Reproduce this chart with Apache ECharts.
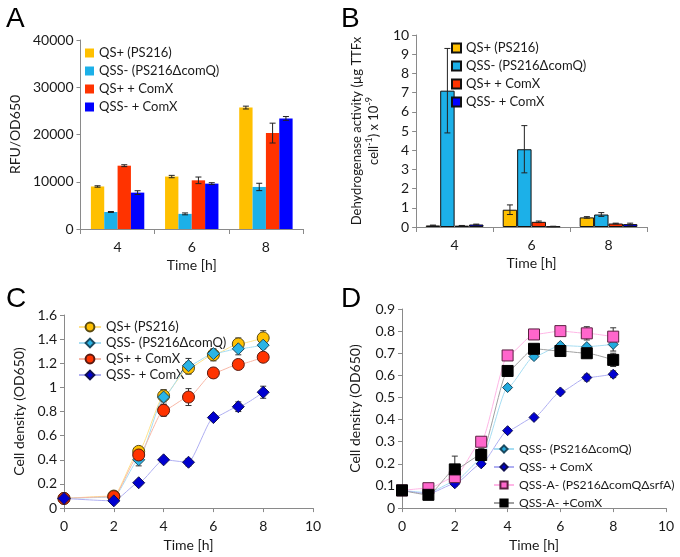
<!DOCTYPE html>
<html><head><meta charset="utf-8">
<script src="https://cdn.jsdelivr.net/npm/echarts@6/dist/echarts.min.js"></script>
<style>
html,body{margin:0;padding:0;background:#fff;}
#wrap{position:relative;width:680px;height:557px;}
.p{position:absolute;}
</style></head>
<body><div id="wrap">
<div id="pA" class="p" style="left:0;top:0;width:340px;height:280px"></div>
<div id="pB" class="p" style="left:340px;top:0;width:340px;height:280px"></div>
<div id="pC" class="p" style="left:0;top:280px;width:340px;height:277px"></div>
<div id="pD" class="p" style="left:340px;top:280px;width:340px;height:277px"></div>
</div>
<script>
// ---------- data ----------
const barTimes = ['4', '6', '8'];
const barNames = ['QS+ (PS216)', 'QSS- (PS216ΔcomQ)', 'QS+ + ComX', 'QSS- + ComX'];
// Panel A: RFU/OD650
const rfuQS = [9000, 11100, 25700];
const rfuQSErr = [150, 250, 300];
const rfuQSS = [3600, 3200, 8900];
const rfuQSSErr = [100, 200, 780];
const rfuQSComX = [13400, 10300, 20300];
const rfuQSComXErr = [200, 700, 2100];
const rfuQSSComX = [7700, 9600, 23400];
const rfuQSSComXErr = [400, 200, 400];
// Panel B: dehydrogenase activity
const dhQS = [0.08, 0.9, 0.5];
const dhQSErr = [0.02, 0.25, 0.04];
const dhQSS = [7.1, 4.05, 0.65];
const dhQSSErr = [2.2, 1.23, 0.1];
const dhQSComX = [0.07, 0.27, 0.18];
const dhQSComXErr = [0.01, 0.04, 0.02];
const dhQSSComX = [0.13, 0.03, 0.15];
const dhQSSComXErr = [0.02, 0.01, 0.05];
// Panel C: growth
const timeC = [0, 2, 3, 4, 5, 6, 7, 8];
const cQS = [0.08, 0.10, 0.47, 0.93, 1.16, 1.27, 1.36, 1.41];
const cQSErr = [0.01, 0.01, 0.03, 0.05, 0.05, 0.05, 0.05, 0.06];
const cQSS = [0.08, 0.09, 0.40, 0.92, 1.18, 1.28, 1.32, 1.35];
const cQSSErr = [0.01, 0.01, 0.05, 0.06, 0.06, 0.03, 0.05, 0.03];
const cQSComX = [0.08, 0.095, 0.44, 0.81, 0.92, 1.12, 1.19, 1.25];
const cQSComXErr = [0.01, 0.01, 0.02, 0.05, 0.07, 0.04, 0.02, 0.02];
const cQSSComX = [0.08, 0.06, 0.21, 0.40, 0.38, 0.75, 0.84, 0.96];
const cQSSComXErr = [0.01, 0.01, 0.02, 0.02, 0.03, 0.02, 0.04, 0.05];
const cNames = ['QS+ (PS216)', 'QSS- (PS216ΔcomQ)', 'QS+ + ComX', 'QSS- + ComX'];
// Panel D: growth
const timeD = [0, 1, 2, 3, 4, 5, 6, 7, 8];
const dQSS = [0.08, 0.07, 0.12, 0.22, 0.545, 0.685, 0.735, 0.73, 0.74];
const dQSSErr = [0.005, 0.005, 0.01, 0.01, 0.01, 0.01, 0.01, 0.01, 0.03];
const dQSSComX = [0.08, 0.065, 0.11, 0.20, 0.35, 0.41, 0.525, 0.59, 0.605];
const dQSSComXErr = [0.005, 0.005, 0.01, 0.01, 0.01, 0.01, 0.01, 0.015, 0.015];
const dQSSA = [0.08, 0.09, 0.14, 0.30, 0.69, 0.785, 0.80, 0.79, 0.775];
const dQSSAErr = [0.005, 0.005, 0.01, 0.01, 0.01, 0.01, 0.02, 0.03, 0.04];
const dQSSAComX = [0.08, 0.06, 0.175, 0.24, 0.62, 0.72, 0.71, 0.70, 0.67];
const dQSSAComXErr = [0.005, 0.005, 0.06, 0.03, 0.01, 0.01, 0.01, 0.01, 0.03];
const dNames = ['QSS- (PS216ΔcomQ)', 'QSS- + ComX', 'QSS-A- (PS216ΔcomQΔsrfA)', 'QSS-A- +ComX'];

// ---------- styles ----------
const FONT = 'Lato';
const axisCol = '#8a8a8a';
const txtCol = '#1a1a1a';
const barColors = ['#FFC000', '#1CB0E8', '#FF3300', '#0000FF'];
const legendText = {fontFamily: FONT, fontSize: 13, lineHeight: 14, color: txtCol};

function baseAxisStyle() {
  return {
    axisLine: {show: true, lineStyle: {color: axisCol, width: 1}},
    axisTick: {show: true, length: 4, lineStyle: {color: axisCol}},
    axisLabel: {color: txtCol, fontFamily: FONT, fontSize: 14, formatter: v => String(v)},
    splitLine: {show: false},
    nameTextStyle: {color: txtCol, fontFamily: FONT, fontSize: 14}
  };
}

function barErr(vals, errs, idx, n, gap) {
  return {
    type: 'custom', z: 10, silent: true,
    data: vals.map((v, i) => [i, v, errs[i]]),
    renderItem: function (params, api) {
      const c = api.value(0), v = api.value(1), e = api.value(2);
      const band = api.size([1, 0])[0];
      const bw = band * (1 - gap) / n;
      const off = (idx - (n - 1) / 2) * bw;
      const t = api.coord([c, v + e]), b = api.coord([c, Math.max(0, v - e)]);
      const x = t[0] + off, h = 3;
      const st = {stroke: '#222', lineWidth: 1};
      return {type: 'group', children: [
        {type: 'line', shape: {x1: x, y1: t[1], x2: x, y2: b[1]}, style: st},
        {type: 'line', shape: {x1: x - h, y1: t[1], x2: x + h, y2: t[1]}, style: st},
        {type: 'line', shape: {x1: x - h, y1: b[1], x2: x + h, y2: b[1]}, style: st}
      ]};
    }
  };
}

function ptErr(xs, vals, errs) {
  return {
    type: 'custom', z: 1, silent: true,
    data: vals.map((v, i) => [xs[i], v, errs[i]]),
    renderItem: function (params, api) {
      const xv = api.value(0), v = api.value(1), e = api.value(2);
      const t = api.coord([xv, v + e]), b = api.coord([xv, v - e]);
      const x = t[0], h = 3;
      const st = {stroke: '#333', lineWidth: 1};
      return {type: 'group', children: [
        {type: 'line', shape: {x1: x, y1: t[1], x2: x, y2: b[1]}, style: st},
        {type: 'line', shape: {x1: x - h, y1: t[1], x2: x + h, y2: t[1]}, style: st},
        {type: 'line', shape: {x1: x - h, y1: b[1], x2: x + h, y2: b[1]}, style: st}
      ]};
    }
  };
}

function letter(t, left, top) {
  return {text: t, left: left, top: top, textStyle: {fontFamily: 'Liberation Sans', fontSize: 28, fontWeight: 'normal', color: '#000'}};
}

// ---------- Panel A ----------
(function () {
  const gap = 0.28;
  const vals = [rfuQS, rfuQSS, rfuQSComX, rfuQSSComX];
  const errs = [rfuQSErr, rfuQSSErr, rfuQSComXErr, rfuQSSComXErr];
  const series = [];
  vals.forEach((v, i) => series.push({type: 'bar', name: barNames[i], data: v, barGap: 0, barCategoryGap: (gap * 100) + '%', itemStyle: {color: barColors[i]}}));
  vals.forEach((v, i) => series.push(barErr(v, errs[i], i, 4, gap)));
  const ch = echarts.init(document.getElementById('pA'));
  const xa = baseAxisStyle(), ya = baseAxisStyle();
  ch.setOption({
    animation: false,
    title: letter('A', 1, 0),
    grid: {left: 69, top: 40, width: 234, height: 189},
    legend: {orient: 'vertical', left: 80, top: 41, itemWidth: 9, itemHeight: 9, itemGap: 4, icon: 'rect',
      data: barNames, textStyle: legendText},
    xAxis: Object.assign(xa, {type: 'category', data: barTimes, name: 'Time [h]', nameLocation: 'middle', nameGap: 28,
      axisTick: {show: true, length: 5, lineStyle: {color: axisCol}}, axisLabel: Object.assign(xa.axisLabel, {margin: 11})}),
    yAxis: Object.assign(ya, {type: 'value', min: 0, max: 40000, interval: 10000, name: 'RFU/OD650', nameLocation: 'middle', nameGap: 52,
      axisLabel: Object.assign(ya.axisLabel, {margin: 7})}),
    series: series
  });
})();

// ---------- Panel B ----------
(function () {
  const gap = 0.25;
  const vals = [dhQS, dhQSS, dhQSComX, dhQSSComX];
  const errs = [dhQSErr, dhQSSErr, dhQSComXErr, dhQSSComXErr];
  const series = [];
  vals.forEach((v, i) => series.push({type: 'bar', name: barNames[i], data: v, barGap: 0, barCategoryGap: (gap * 100) + '%', itemStyle: {color: barColors[i], borderColor: '#111', borderWidth: 1}}));
  vals.forEach((v, i) => series.push(barErr(v, errs[i], i, 4, gap)));
  const ch = echarts.init(document.getElementById('pB'));
  const xa = baseAxisStyle(), ya = baseAxisStyle();
  ch.setOption({
    animation: false,
    title: letter('B', -4, 0),
    grid: {left: 58, top: 35, width: 249, height: 192},
    legend: {orient: 'vertical', left: 106, top: 36, itemWidth: 9, itemHeight: 9, itemGap: 4, icon: 'rect',
      data: barNames, textStyle: legendText},
    xAxis: Object.assign(xa, {type: 'category', data: barTimes, name: 'Time [h]', nameLocation: 'middle', nameGap: 28,
      axisTick: {show: true, length: 5, lineStyle: {color: axisCol}}, axisLabel: Object.assign(xa.axisLabel, {margin: 11})}),
    yAxis: Object.assign(ya, {type: 'value', min: 0, max: 10, interval: 1,
      name: 'Dehydrogenase activity (µg TTFx\ncell{sup|-1}) x 10{sup|-9}', nameLocation: 'middle', nameGap: 22,
      nameTextStyle: {color: txtCol, fontFamily: FONT, fontSize: 13, lineHeight: 17,
        rich: {sup: {fontFamily: FONT, fontSize: 9, verticalAlign: 'top', lineHeight: 17, color: txtCol}}},
      axisLabel: Object.assign(ya.axisLabel, {margin: 7})}),
    series: series
  });
})();

// ---------- line panel helper ----------
function linePanel(id, letterTxt, letterLeft, grid, xs, sets, yMax, yInt, legendCfg, nameGap) {
  const series = [];
  sets.forEach(s => series.push(ptErr(xs, s.vals, s.errs)));
  sets.forEach(s => series.push({
    type: 'line', name: s.name, data: xs.map((x, i) => [x, s.vals[i]]), smooth: 0.2, smoothMonotone: 'x', z: 5,
    symbol: s.symbol, symbolSize: s.size, showSymbol: true,
    lineStyle: {color: s.line, width: 1},
    itemStyle: {color: s.fill, borderColor: s.border, borderWidth: 1}
  }));
  const ch = echarts.init(document.getElementById(id));
  const xa = baseAxisStyle(), ya = baseAxisStyle();
  ch.setOption({
    animation: false,
    title: letter(letterTxt, letterLeft, 0),
    grid: grid,
    legend: Object.assign({orient: 'vertical', data: sets.map(s => s.name), textStyle: legendText}, legendCfg),
    xAxis: Object.assign(xa, {type: 'value', min: 0, max: 10, interval: 2, name: 'Time [h]', nameLocation: 'middle', nameGap: 29,
      axisLabel: Object.assign(xa.axisLabel, {margin: 11})}),
    yAxis: Object.assign(ya, {type: 'value', min: 0, max: yMax, interval: yInt, name: 'Cell density (OD650)', nameLocation: 'middle', nameGap: nameGap,
      axisLabel: Object.assign(ya.axisLabel, {margin: 7})}),
    series: series
  });
}

// ---------- Panel C ----------
linePanel('pC', 'C', 1, {left: 64, top: 35, width: 249, height: 195}, timeC, [
  {name: cNames[0], vals: cQS, errs: cQSErr, symbol: 'circle', size: 12, fill: '#FFC000', border: '#5a4a10', line: '#FFE28A'},
  {name: cNames[1], vals: cQSS, errs: cQSSErr, symbol: 'diamond', size: 12, fill: '#2AB4E6', border: '#1a4a60', line: '#A6DDF2'},
  {name: cNames[2], vals: cQSComX, errs: cQSComXErr, symbol: 'circle', size: 12, fill: '#FF3300', border: '#5a1a10', line: '#F8B7A6'},
  {name: cNames[3], vals: cQSSComX, errs: cQSSComXErr, symbol: 'diamond', size: 12, fill: '#0000D0', border: '#101050', line: '#AFAFF2'}
], 1.6, 0.2, {left: 73, top: 35, itemWidth: 22, itemHeight: 11, itemGap: 2}, 36);

// ---------- Panel D ----------
linePanel('pD', 'D', -4, {left: 60, top: 29, width: 266, height: 200}, timeD, [
  {name: dNames[0], vals: dQSS, errs: dQSSErr, symbol: 'diamond', size: 10, fill: '#22AADD', border: '#1a4a60', line: '#A6DDF2'},
  {name: dNames[1], vals: dQSSComX, errs: dQSSComXErr, symbol: 'diamond', size: 10, fill: '#0000D0', border: '#101050', line: '#AFAFF2'},
  {name: dNames[2], vals: dQSSA, errs: dQSSAErr, symbol: 'rect', size: 11, fill: '#FF66CC', border: '#5a2040', line: '#FFB6E6'},
  {name: dNames[3], vals: dQSSAComX, errs: dQSSAComXErr, symbol: 'rect', size: 11, fill: '#000000', border: '#000000', line: '#A0A0A0'}
], 0.9, 0.1, {left: 148, top: 157, itemWidth: 20, itemHeight: 9, itemGap: 4,
  textStyle: {fontFamily: FONT, fontSize: 12.2, lineHeight: 14, color: txtCol}}, 40);
</script>
</body></html>
